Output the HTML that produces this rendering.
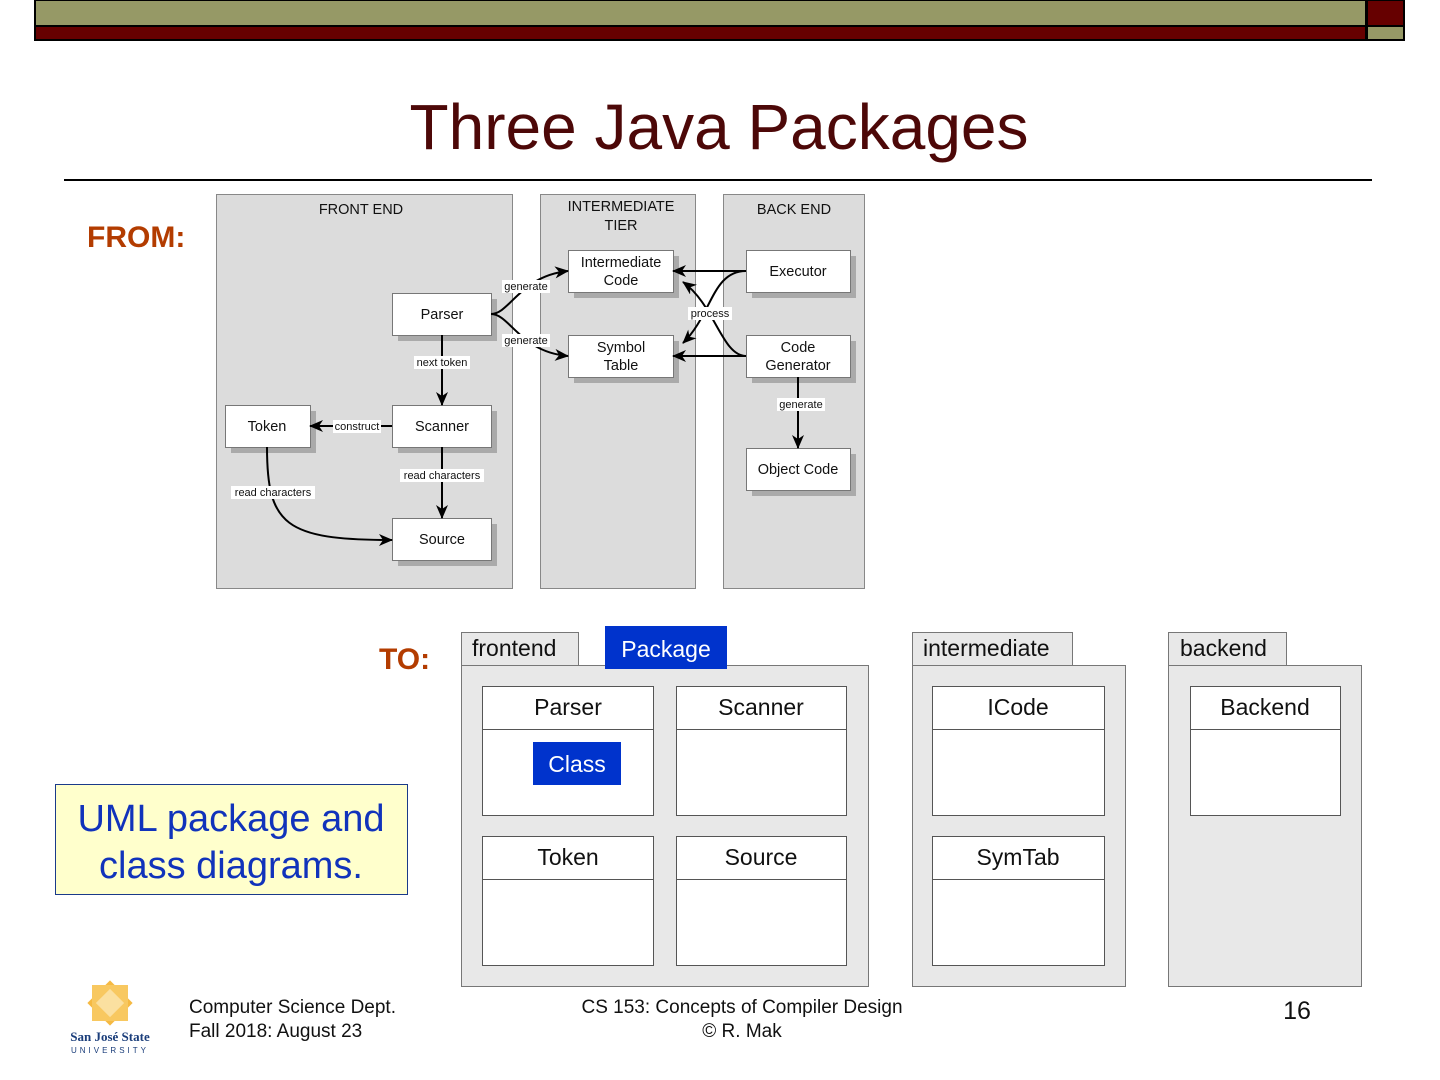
<!DOCTYPE html>
<html><head><meta charset="utf-8"><style>
html,body{margin:0;padding:0;background:#fff;}
svg{display:block;font-family:"Liberation Sans",Arial,sans-serif;}
</style></head><body>
<svg width="1440" height="1080" viewBox="0 0 1440 1080" xmlns="http://www.w3.org/2000/svg">
<defs>
<marker id="ah" markerWidth="14" markerHeight="12" refX="13" refY="6" orient="auto" markerUnits="userSpaceOnUse"><path d="M0,0 L14,6 L0,12 L4,6 z" fill="#000"/></marker>
</defs>
<rect x="35" y="0" width="1331" height="26" fill="#969966" stroke="#000" stroke-width="2"/>
<rect x="35" y="26" width="1331" height="14" fill="#660000" stroke="#000" stroke-width="2"/>
<rect x="1367" y="0" width="37" height="26" fill="#660000" stroke="#000" stroke-width="2"/>
<rect x="1367" y="26" width="37" height="14" fill="#969966" stroke="#000" stroke-width="2"/>
<text x="719" y="149" font-size="64" text-anchor="middle" fill="#4d0808">Three Java Packages</text>
<line x1="64" y1="180" x2="1372" y2="180" stroke="#000" stroke-width="2"/>
<text x="87" y="247" font-size="30" font-weight="bold" fill="#b33c00">FROM:</text>
<text x="379" y="669" font-size="30" font-weight="bold" fill="#b33c00">TO:</text>

<g fill="#dcdcdc" stroke="#888" stroke-width="1">
<rect x="216.5" y="194.5" width="296" height="394"/>
<rect x="540.5" y="194.5" width="155" height="394"/>
<rect x="723.5" y="194.5" width="141" height="394"/>
</g>
<g font-size="14.5" fill="#111" text-anchor="middle">
<text x="361" y="214">FRONT END</text>
<text x="621" y="211">INTERMEDIATE</text>
<text x="621" y="230">TIER</text>
<text x="794" y="214">BACK END</text>
</g>
<g>
<g fill="#aaa">
<rect x="574" y="256" width="105" height="42"/>
<rect x="398" y="299" width="99" height="42"/>
<rect x="752" y="256" width="104" height="42"/>
<rect x="574" y="341" width="105" height="42"/>
<rect x="752" y="341" width="104" height="42"/>
<rect x="231" y="411" width="85" height="42"/>
<rect x="398" y="411" width="99" height="42"/>
<rect x="752" y="454" width="104" height="42"/>
<rect x="398" y="524" width="99" height="42"/>
</g>
<g fill="#fff" stroke="#777" stroke-width="1">
<rect x="568.5" y="250.5" width="105" height="42"/>
<rect x="392.5" y="293.5" width="99" height="42"/>
<rect x="746.5" y="250.5" width="104" height="42"/>
<rect x="568.5" y="335.5" width="105" height="42"/>
<rect x="746.5" y="335.5" width="104" height="42"/>
<rect x="225.5" y="405.5" width="85" height="42"/>
<rect x="392.5" y="405.5" width="99" height="42"/>
<rect x="746.5" y="448.5" width="104" height="42"/>
<rect x="392.5" y="518.5" width="99" height="42"/>
</g>
</g>
<g font-size="14.5" fill="#111" text-anchor="middle">
<text x="621" y="267">Intermediate</text><text x="621" y="285">Code</text>
<text x="442" y="319">Parser</text>
<text x="798" y="276">Executor</text>
<text x="621" y="352">Symbol</text><text x="621" y="370">Table</text>
<text x="798" y="352">Code</text><text x="798" y="370">Generator</text>
<text x="267" y="431">Token</text>
<text x="442" y="431">Scanner</text>
<text x="798" y="474">Object Code</text>
<text x="442" y="544">Source</text>
</g>
<g fill="none" stroke="#000" stroke-width="2" marker-end="url(#ah)">
<path d="M491,314 C510,314 520,276 568,271"/>
<path d="M491,314 C510,314 520,352 568,356"/>
<path d="M442,335 L442,405"/>
<path d="M392,426 L310,426"/>
<path d="M442,447 L442,518"/>
<path d="M267,447 C267,525 285,540 392,540"/>
<path d="M746,271 L673,271"/>
<path d="M746,271 C712,271 712,315 683,343"/>
<path d="M746,356 L673,356"/>
<path d="M746,356 C722,356 715,305 683,282"/>
<path d="M798,377 L798,448"/>
</g>
<g font-size="11" fill="#111" text-anchor="middle">
<rect x="502" y="280" width="48" height="13" fill="#fff"/><text x="526" y="290">generate</text>
<rect x="502" y="334" width="48" height="13" fill="#fff"/><text x="526" y="344">generate</text>
<rect x="414" y="356" width="56" height="13" fill="#fff"/><text x="442" y="366">next token</text>
<rect x="333" y="420" width="48" height="13" fill="#fff"/><text x="357" y="430">construct</text>
<rect x="400" y="469" width="84" height="13" fill="#fff"/><text x="442" y="479">read characters</text>
<rect x="231" y="486" width="84" height="13" fill="#fff"/><text x="273" y="496">read characters</text>
<rect x="688" y="307" width="44" height="13" fill="#fff"/><text x="710" y="317">process</text>
<rect x="777" y="398" width="48" height="13" fill="#fff"/><text x="801" y="408">generate</text>
</g>

<g fill="#e8e8e8" stroke="#777" stroke-width="1">
<rect x="461.5" y="632.5" width="117" height="33"/>
<rect x="461.5" y="665.5" width="407" height="321"/>
<rect x="912.5" y="632.5" width="160" height="33"/>
<rect x="912.5" y="665.5" width="213" height="321"/>
<rect x="1168.5" y="632.5" width="118" height="33"/>
<rect x="1168.5" y="665.5" width="193" height="321"/>
</g>
<g font-size="23" fill="#111">
<text x="472" y="656">frontend</text>
<text x="923" y="656">intermediate</text>
<text x="1180" y="656">backend</text>
</g>
<rect x="605" y="626" width="122" height="43" fill="#0033cc"/>
<text x="666" y="657" font-size="23" fill="#fff" text-anchor="middle">Package</text>
<g fill="#fff" stroke="#555" stroke-width="1">
<rect x="482.5" y="686.5" width="171" height="129"/><line x1="482" y1="729.5" x2="654" y2="729.5"/>
<rect x="676.5" y="686.5" width="170" height="129"/><line x1="676" y1="729.5" x2="847" y2="729.5"/>
<rect x="482.5" y="836.5" width="171" height="129"/><line x1="482" y1="879.5" x2="654" y2="879.5"/>
<rect x="676.5" y="836.5" width="170" height="129"/><line x1="676" y1="879.5" x2="847" y2="879.5"/>
<rect x="932.5" y="686.5" width="172" height="129"/><line x1="932" y1="729.5" x2="1105" y2="729.5"/>
<rect x="932.5" y="836.5" width="172" height="129"/><line x1="932" y1="879.5" x2="1105" y2="879.5"/>
<rect x="1190.5" y="686.5" width="150" height="129"/><line x1="1190" y1="729.5" x2="1341" y2="729.5"/>
</g>
<g font-size="23" fill="#111" text-anchor="middle">
<text x="568" y="715">Parser</text>
<text x="761" y="715">Scanner</text>
<text x="568" y="865">Token</text>
<text x="761" y="865">Source</text>
<text x="1018" y="715">ICode</text>
<text x="1018" y="865">SymTab</text>
<text x="1265" y="715">Backend</text>
</g>
<rect x="533" y="742" width="88" height="43" fill="#0033cc"/>
<text x="577" y="772" font-size="23" fill="#fff" text-anchor="middle">Class</text>

<rect x="55.5" y="784.5" width="352" height="110" fill="#ffffcc" stroke="#1a3a8a" stroke-width="1"/>
<g font-size="38" fill="#1133bb" text-anchor="middle">
<text x="231" y="831">UML package and</text>
<text x="231" y="878">class diagrams.</text>
</g>

<g transform="translate(110,1003)">
<rect x="-16" y="-16" width="32" height="32" fill="#f5b942" transform="rotate(45)"/>
<rect x="-18" y="-18" width="36" height="36" fill="#f8c860"/>
<rect x="-10" y="-10" width="20" height="20" fill="#fbe0a0" transform="rotate(45)"/>
</g>
<text x="110" y="1041" font-size="13" font-weight="bold" fill="#1a3d7a" text-anchor="middle" font-family="Liberation Serif,serif">San José State</text>
<text x="110" y="1053" font-size="8" fill="#1a3d7a" text-anchor="middle" letter-spacing="3">UNIVERSITY</text>
<g font-size="19" fill="#111">
<text x="189" y="1013">Computer Science Dept.</text>
<text x="189" y="1037">Fall 2018: August 23</text>
<text x="742" y="1013" text-anchor="middle">CS 153: Concepts of Compiler Design</text>
<text x="742" y="1037" text-anchor="middle">© R. Mak</text>
<text x="1297" y="1019" font-size="25" text-anchor="middle">16</text>
</g>
</svg>
</body></html>
